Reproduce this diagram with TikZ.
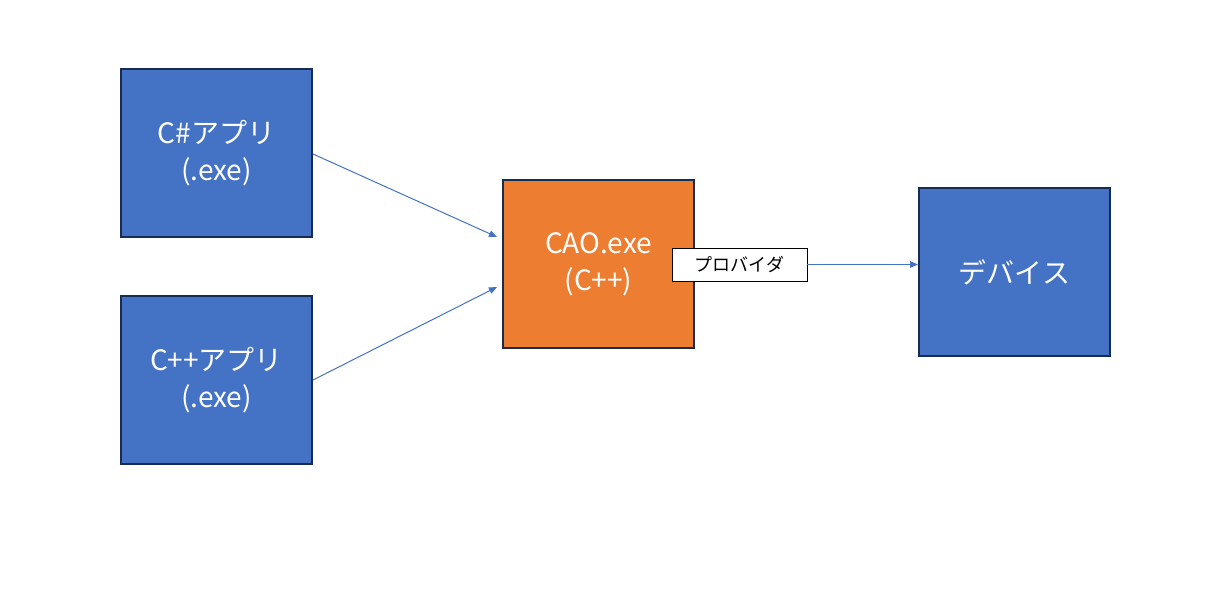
\documentclass[tikz,border=0pt]{standalone}
\usepackage{fontspec}
\setmainfont{Noto Sans CJK JP}
\usetikzlibrary{arrows.meta}
\definecolor{boxblue}{HTML}{4472C4}
\definecolor{boxorange}{HTML}{ED7D31}
\definecolor{boxedge}{HTML}{172C51}
\begin{document}
\begin{tikzpicture}[x=0.75pt,y=-0.75pt,
  blk/.style={draw=boxedge,line width=1.5pt,minimum width=143.25pt,minimum height=126pt,inner sep=0pt,
    text=white,font=\fontsize{21}{27.5}\selectfont,align=center},
  conn/.style={draw=boxblue,line width=0.75pt,-{Triangle[length=6pt,width=5pt]}},
  tag/.style={draw=black,line width=0.6pt,fill=white,minimum width=101.25pt,minimum height=24.75pt,inner sep=0pt,font=\fontsize{13.5}{15}\selectfont}]
\useasboundingbox (0,0) rectangle (1208,603);
\node[blk,fill=boxblue] (cs) at (216.5,153) {C\#アプリ\\(.exe)};
\node[blk,fill=boxblue] (cpp) at (216.5,380) {C++アプリ\\(.exe)};
\node[blk,fill=boxorange] (cao) at (598.5,264) {CAO.exe\\(C++)};
\node[blk,fill=boxblue] (dev) at (1014.5,272) {デバイス};
\node[tag] (prov) at (739.5,264.5) {プロバイダ};
\coordinate (a1) at (497,237);
\coordinate (a2) at (497,287);
\draw[conn] (cs.east |- 0,154) -- (a1);
\draw[conn] (cpp.east |- 0,380) -- (a2);
\draw[conn] (prov.east) -- (dev.west |- prov.east);
\end{tikzpicture}
\end{document}
